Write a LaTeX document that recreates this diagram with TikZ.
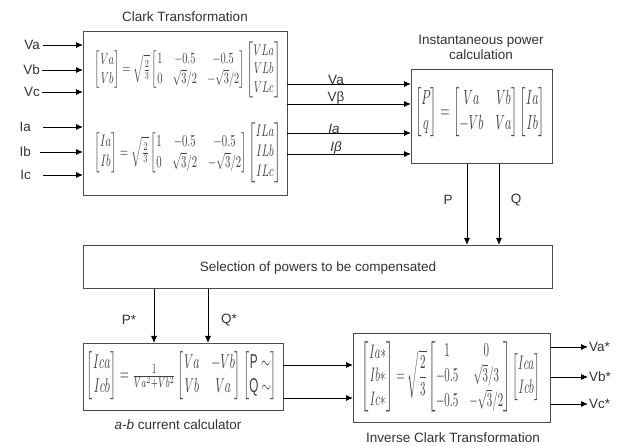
\documentclass[tikz,border=0pt]{standalone}
\usepackage{amsmath}
\usepackage{graphicx}
\usepackage{fontspec}
\setmainfont{Liberation Sans}
\usetikzlibrary{arrows.meta}
\tikzset{
  blk/.style={draw=black!70, line width=1.3pt, anchor=north west, inner sep=0pt},
  arr/.style={-{Latex[length=7pt,width=6pt]}, line width=0.9pt, black},
  lbl/.style={font=\fontsize{13.5}{15}\selectfont, text=black!80, inner sep=1pt},
  eq/.style={inner sep=0pt, text=black!75},
}
\begin{document}
\begin{tikzpicture}[x=1pt,y=-1pt]
\useasboundingbox[fill=white] (0,0) rectangle (630,446);

% boxes
\node[blk, minimum width=204pt, minimum height=164pt] (clark) at (83,31) {};
\node[blk, minimum width=141pt, minimum height=94pt] (power) at (411,69) {};
\node[blk, minimum width=469pt, minimum height=43pt] (sel) at (83,245) {};
\node[blk, minimum width=200pt, minimum height=67pt] (ab) at (83,343) {};
\node[blk, minimum width=197pt, minimum height=89pt] (inv) at (353,333) {};

% titles
\node[lbl] (tclark) at (185,17) {Clark Transformation};
\node[lbl, align=center] (tpower) at (481,47) {Instantaneous power\\calculation};
\node[lbl] (tsel) at (318,268) {Selection of powers to be compensated};
\node[lbl] (tab) at (178,425) {\textit{a-b} current calculator};
\node[lbl] (tinv) at (453,438) {Inverse Clark Transformation};

% equations
\node[eq] (eq1) at (188,70) {\resizebox*{186pt}{56pt}{$\begin{bmatrix} Va\\ Vb\end{bmatrix}=\sqrt{\tfrac{2}{3}}\begin{bmatrix}1 & -0.5 & -0.5\\ 0 & \sqrt{3}/2 & -\sqrt{3}/2\end{bmatrix}\begin{bmatrix}VLa\\ VLb\\ VLc\end{bmatrix}$}};
\node[eq] (eq2) at (188,153) {\resizebox*{187pt}{60pt}{$\begin{bmatrix} Ia\\ Ib\end{bmatrix}=\sqrt{\tfrac{2}{3}}\begin{bmatrix}1 & -0.5 & -0.5\\ 0 & \sqrt{3}/2 & -\sqrt{3}/2\end{bmatrix}\begin{bmatrix}ILa\\ ILb\\ ILc\end{bmatrix}$}};
\node[eq] (eq3) at (480,112) {\resizebox*{130pt}{49pt}{$\begin{bmatrix} P\\ q\end{bmatrix}=\begin{bmatrix}Va & Vb\\ -Vb & Va\end{bmatrix}\begin{bmatrix}Ia\\ Ib\end{bmatrix}$}};
\node[eq] (eq4) at (182,376) {\resizebox*{190pt}{48pt}{$\begin{bmatrix} Ica\\ Icb\end{bmatrix}=\frac{1}{Va^2+Vb^2}\begin{bmatrix}Va & -Vb\\ Vb & Va\end{bmatrix}\begin{bmatrix}\mathrm{P}\sim\\ \mathrm{Q}\sim\end{bmatrix}$}};
\node[eq] (eq5) at (451,377) {\resizebox*{178pt}{73pt}{$\begin{bmatrix} Ia*\\ Ib*\\ Ic*\end{bmatrix}=\sqrt{\dfrac{2}{3}}\begin{bmatrix}1 & 0\\ -0.5 & \sqrt{3}/3\\ -0.5 & -\sqrt{3}/2\end{bmatrix}\begin{bmatrix}Ica\\ Icb\end{bmatrix}$}};

% inputs
\node[lbl, anchor=east] (iVa) at (41,45) {Va};
\node[lbl, anchor=east] (iVb) at (41,70) {Vb};
\node[lbl, anchor=east] (iVc) at (41,92) {Vc};
\node[lbl, anchor=east] (iIa) at (32,127) {Ia};
\node[lbl, anchor=east] (iIb) at (32,152) {Ib};
\node[lbl, anchor=east] (iIc) at (32,175) {Ic};
\coordinate (sVa) at (43,45);
\coordinate (sVb) at (42,70);
\coordinate (sVc) at (42,92);
\coordinate (sIa) at (43,127);
\coordinate (sIb) at (40,152);
\coordinate (sIc) at (43,175);
\foreach \s in {sVa,sVb,sVc,sIa,sIb,sIc}
  \draw[arr] (\s) -- (\s -| clark.west);

% Clark -> power
\coordinate (o1) at (287,84);
\coordinate (o2) at (287,104);
\coordinate (o3) at (287,133);
\coordinate (o4) at (287,154);
\foreach \s in {o1,o2,o3,o4}
  \draw[arr] (\s) -- (\s -| power.west);
\node[lbl, anchor=south, inner sep=0pt] (lo1) at (336,85) {Va};
\node[lbl, anchor=south, inner sep=0pt] (lo2) at (336,105) {Vβ};
\node[lbl, anchor=south, inner sep=0pt] (lo3) at (334,134) {\textit{Ia}};
\node[lbl, anchor=south, inner sep=0pt] (lo4) at (336,155) {\textit{Iβ}};

% P, Q
\coordinate (xP) at (467,0);
\coordinate (xQ) at (499,0);
\draw[arr] (power.south -| xP) -- (sel.north -| xP);
\draw[arr] (power.south -| xQ) -- (sel.north -| xQ);
\node[lbl] (lP) at (448,200) {P};
\node[lbl] (lQ) at (516,200) {Q};

% P*, Q*
\coordinate (xPs) at (154,0);
\coordinate (xQs) at (208,0);
\draw[arr] (sel.south -| xPs) -- (ab.north -| xPs);
\draw[arr] (sel.south -| xQs) -- (ab.north -| xQs);
\node[lbl] (lPs) at (129,320) {P*};
\node[lbl] (lQs) at (229,320) {Q*};

% ab -> inverse
\coordinate (a1) at (283,365);
\coordinate (a2) at (283,398);
\draw[arr] (a1) -- (a1 -| inv.west);
\draw[arr] (a2) -- (a2 -| inv.west);

% outputs
\node[lbl, anchor=west] (oVa) at (588,347) {Va*};
\node[lbl, anchor=west] (oVb) at (588,377) {Vb*};
\node[lbl, anchor=west] (oVc) at (588,404) {Vc*};
\draw[arr] (inv.east |- oVa.west) -- (oVa.west);
\draw[arr] (inv.east |- oVb.west) -- (oVb.west);
\draw[arr] (inv.east |- oVc.west) -- (oVc.west);
\end{tikzpicture}
\end{document}
